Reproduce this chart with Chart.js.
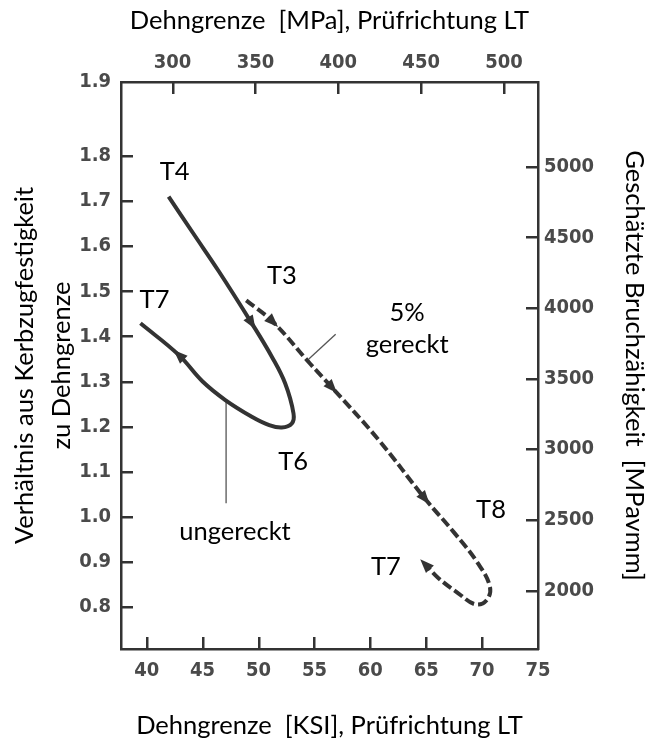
<!DOCTYPE html>
<html lang="de">
<head>
<meta charset="utf-8">
<title>Verhältnis Kerbzugfestigkeit / Dehngrenze</title>
<script src="https://cdn.jsdelivr.net/npm/chart.js@4.4.1/dist/chart.umd.min.js"></script>
<style>
  html, body { margin: 0; padding: 0; background: #fff; }
</style>
</head>
<body>
<canvas id="chart" width="647" height="742"></canvas>
<script>
// Achsenbeschriftungen
const ksiTicks = [40, 45, 50, 55, 60, 65, 70, 75];
const mpaTicks = [300, 350, 400, 450, 500];
const ratioTicks = [0.8, 0.9, 1.0, 1.1, 1.2, 1.3, 1.4, 1.5, 1.6, 1.7, 1.8];
const ratioTopLabel = '1.9';   // sitzt im Original an der Oberkante des Rahmens
const toughnessTicks = [2000, 2500, 3000, 3500, 4000, 4500, 5000];

// ungereckt (durchgezogen): T4 -> T6 -> T7
const ungerecktKsi   = [41.96, 44.2, 46.43, 49.4, 51.19, 52.38, 53.13, 52.98, 52.08, 50.9, 49.4, 47.03, 45.0, 42.86, 39.44];
const ungerecktRatio = [1.710, 1.627, 1.545, 1.429, 1.355, 1.296, 1.229, 1.207, 1.198, 1.204, 1.222, 1.259, 1.300, 1.359, 1.429];
const ungerecktArrows = [3, 13];

// 5% gereckt (gestrichelt): T3 -> T8 -> T7
const gerecktKsi   = [48.9, 51.3, 54.6, 56.6, 60.7, 64.9, 67.5, 69.6, 70.7, 70.4, 69.4, 67.9, 66.1, 64.9];
const gerecktRatio = [1.480, 1.432, 1.340, 1.286, 1.172, 1.040, 0.965, 0.898, 0.845, 0.815, 0.806, 0.830, 0.864, 0.895];
const gerecktArrows = [1, 3, 5, 13];

// Hinweislinien zu den Beschriftungen
const leaderGerecktKsi   = [56.9, 54.5];
const leaderGerecktRatio = [1.405, 1.350];
const leaderUngerecktKsi   = [47.1, 47.1];
const leaderUngerecktRatio = [1.259, 1.030];

// Beschriftungen im Diagramm
const labelTexts = ['T4', 'T3', 'T7', '5%', 'gereckt', 'T6', 'ungereckt', 'T8', 'T7'];
const labelKsi   = [42.5, 52.1, 40.7, 63.3, 63.3, 53.1, 47.9, 70.8, 61.4];
const labelRatio = [1.765, 1.534, 1.481, 1.452, 1.381, 1.122, 0.966, 1.015, 0.889];

const textFont = 'Lato, "Open Sans", sans-serif';
const textSize = 25.5;
const tickFont = { family: '"DejaVu Sans Condensed", "DejaVu Sans", sans-serif', size: 20, weight: 'bold' };
const tickColor = '#4a4a4a';
const lineColor = '#333';

function points(xs, ys) {
    return xs.map((x, i) => ({ x: x, y: ys[i] }));
}

// Tick-Striche (nach innen), Pfeilspitzen und Beschriftungen
const decorations = {
    id: 'decorations',
    afterDatasetsDraw(chart) {
        const c = chart.ctx;
        const sc = chart.scales;
        const left = sc.y.right, right = sc.y2.left;
        const top = sc.x2.bottom, bottom = sc.x.top;
        const len = 12, w = 2.5;
        c.save();
        c.fillStyle = lineColor;

        // Tick-Striche zeigen ins Diagramm
        ksiTicks.forEach(v => {
            if (v >= sc.x.max) return;
            const p = Math.round(sc.x.getPixelForValue(v));
            c.fillRect(p - 1, bottom - len, w, len);
        });
        mpaTicks.forEach(v => {
            const p = Math.round(sc.x2.getPixelForValue(v));
            c.fillRect(p - 1, top, w, len);
        });
        ratioTicks.forEach(v => {
            const p = Math.round(sc.y.getPixelForValue(v));
            c.fillRect(left, p - 1, len, w);
        });
        toughnessTicks.forEach(v => {
            const p = Math.round(sc.y2.getPixelForValue(v));
            c.fillRect(right - len, p - 1, len, w);
        });

        // Pfeilspitzen entlang der Kurven
        [[0, ungerecktArrows], [1, gerecktArrows]].forEach(([di, idx]) => {
            const pts = chart.getDatasetMeta(di).data;
            idx.forEach(i => {
                const a = pts[Math.max(i - 1, 0)];
                const b = pts[Math.min(i + 1, pts.length - 1)];
                let dx = b.x - a.x, dy = b.y - a.y;
                const n = Math.hypot(dx, dy) || 1;
                dx /= n; dy /= n;
                const p = pts[i];
                const bx = p.x - dx * 7, by = p.y - dy * 7;
                c.beginPath();
                c.moveTo(p.x + dx * 7, p.y + dy * 7);
                c.lineTo(bx - dy * 5.5, by + dx * 5.5);
                c.lineTo(bx + dy * 5.5, by - dx * 5.5);
                c.closePath();
                c.fill();
            });
        });

        // Texte mit weissem Hintergrund
        c.font = textSize + 'px ' + textFont;
        c.textAlign = 'center';
        c.textBaseline = 'middle';
        labelTexts.forEach((t, i) => {
            const px = sc.x.getPixelForValue(labelKsi[i]);
            const py = sc.y.getPixelForValue(labelRatio[i]);
            const tw = c.measureText(t).width;
            c.fillStyle = '#fff';
            c.fillRect(px - tw / 2 - 6, py - 14, tw + 12, 28);
            c.fillStyle = '#000';
            c.fillText(t, px, py);
        });
        c.restore();
    }
};

const ctx = document.getElementById('chart');
new Chart(ctx, {
    type: 'scatter',
    data: {
        datasets: [
            {
                label: 'ungereckt',
                data: points(ungerecktKsi, ungerecktRatio),
                showLine: true,
                borderColor: lineColor,
                borderWidth: 4,
                pointRadius: 0,
                tension: 0.4
            },
            {
                label: '5% gereckt',
                data: points(gerecktKsi, gerecktRatio),
                showLine: true,
                borderColor: lineColor,
                borderWidth: 4,
                borderDash: [10, 4],
                pointRadius: 0,
                tension: 0.4
            },
            {
                label: 'Hinweis gereckt',
                data: points(leaderGerecktKsi, leaderGerecktRatio),
                showLine: true,
                borderColor: '#555',
                borderWidth: 1.3,
                pointRadius: 0
            },
            {
                label: 'Hinweis ungereckt',
                data: points(leaderUngerecktKsi, leaderUngerecktRatio),
                showLine: true,
                borderColor: '#555',
                borderWidth: 1.3,
                pointRadius: 0
            }
        ]
    },
    options: {
        responsive: false,
        animation: false,
        layout: { padding: 0 },
        plugins: {
            legend: { display: false },
            tooltip: { enabled: false }
        },
        scales: {
            x: {
                type: 'linear',
                position: 'bottom',
                min: 37.7,
                max: 75,
                grid: { display: false, drawTicks: false },
                border: { display: true, color: lineColor, width: 2.5 },
                ticks: { font: tickFont, color: tickColor, padding: 10, maxRotation: 0, autoSkip: false },
                afterBuildTicks: s => { s.ticks = ksiTicks.map(v => ({ value: v })); },
                afterFit: s => { s.height = 93; },
                title: {
                    display: true,
                    text: 'Dehngrenze  [KSI], Prüfrichtung LT',
                    font: { family: textFont, size: textSize, lineHeight: 1.2 },
                    color: '#000',
                    padding: { top: 0, bottom: 1 }
                }
            },
            x2: {
                type: 'linear',
                position: 'top',
                min: 268.9,
                max: 520.5,
                grid: { display: false, drawTicks: false },
                border: { display: true, color: lineColor, width: 2.5 },
                ticks: { font: tickFont, color: tickColor, padding: 7, maxRotation: 0, autoSkip: false },
                afterBuildTicks: s => { s.ticks = mpaTicks.map(v => ({ value: v })); },
                afterFit: s => { s.height = 82; },
                title: {
                    display: true,
                    text: 'Dehngrenze  [MPa], Prüfrichtung LT',
                    font: { family: textFont, size: textSize, lineHeight: 1.2 },
                    color: '#000',
                    padding: { top: 5, bottom: 0 }
                }
            },
            y: {
                type: 'linear',
                position: 'left',
                min: 0.707,
                max: 1.964,
                grid: { display: false, drawTicks: false },
                border: { display: true, color: lineColor, width: 2.5 },
                ticks: {
                    font: tickFont, color: tickColor, padding: 10, autoSkip: false,
                    callback: (v) => v >= 1.9 ? ratioTopLabel : v.toFixed(1)
                },
                afterBuildTicks: s => {
                    s.ticks = ratioTicks.map(v => ({ value: v }));
                    s.ticks.push({ value: s.max });
                },
                afterFit: s => { s.width = 121; },
                title: {
                    display: true,
                    text: ['Verhältnis aus Kerbzugfestigkeit', 'zu Dehngrenze'],
                    font: { family: textFont, size: textSize, lineHeight: 1.45 },
                    color: '#000',
                    padding: { top: 6.5, bottom: 0 }
                }
            },
            y2: {
                type: 'linear',
                position: 'right',
                min: 1586,
                max: 5600,
                grid: { display: false, drawTicks: false },
                border: { display: true, color: lineColor, width: 2.5 },
                ticks: {
                    font: tickFont, color: tickColor, padding: 6, autoSkip: false,
                    callback: (v) => String(v)
                },
                afterBuildTicks: s => { s.ticks = toughnessTicks.map(v => ({ value: v })); },
                afterFit: s => { s.width = 109; },
                title: {
                    display: true,
                    text: 'Geschätzte Bruchzähigkeit  [MPavmm]',
                    font: { family: textFont, size: textSize, lineHeight: 1 },
                    color: '#000',
                    padding: { top: 0, bottom: 0 }
                }
            }
        }
    },
    plugins: [decorations]
});
</script>
</body>
</html>
